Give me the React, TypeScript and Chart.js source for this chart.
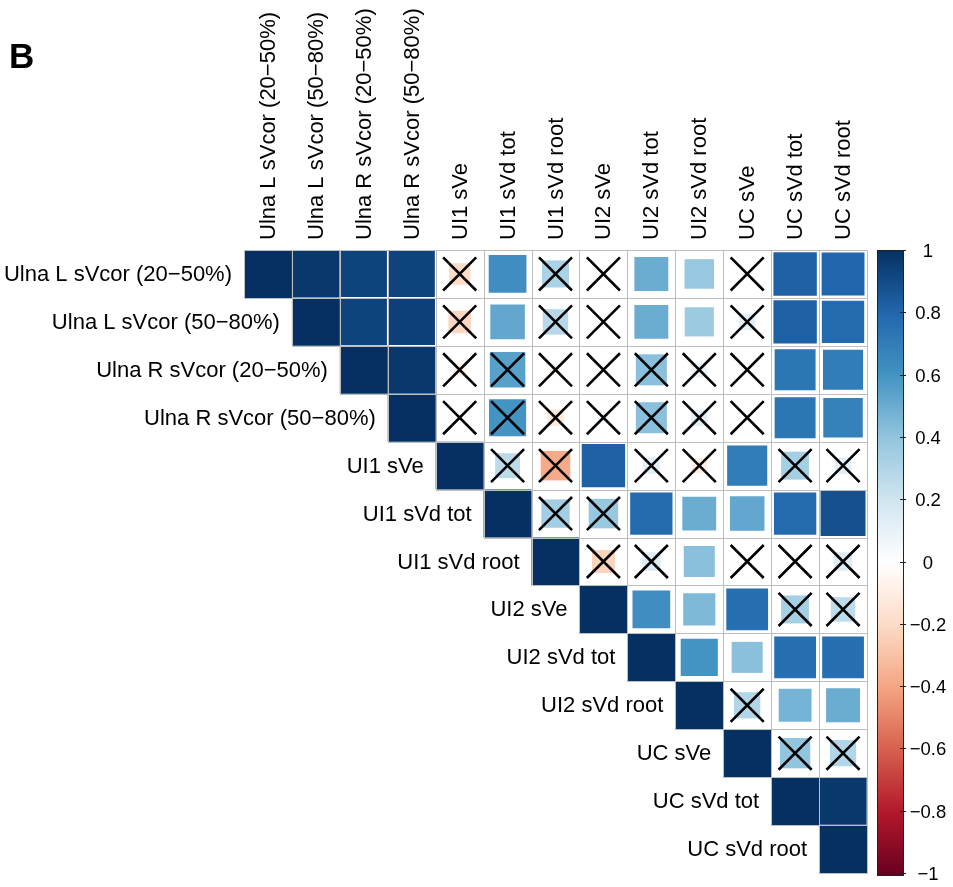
import React, { useEffect, useRef } from 'react';
import { Chart, registerables } from 'chart.js';

Chart.register(...registerables);

// ---------- data ----------
const variables: string[] = [
  'Ulna L sVcor (20−50%)',
  'Ulna L sVcor (50−80%)',
  'Ulna R sVcor (20−50%)',
  'Ulna R sVcor (50−80%)',
  'UI1 sVe',
  'UI1 sVd tot',
  'UI1 sVd root',
  'UI2 sVe',
  'UI2 sVd tot',
  'UI2 sVd root',
  'UC sVe',
  'UC sVd tot',
  'UC sVd root',
];

// upper triangle: each row starts at its own diagonal cell
const rowUlnaL2050 = [1, 0.97, 0.93, 0.93, -0.2, 0.62, 0.32, 0.02, 0.5, 0.38, 0.03, 0.82, 0.8];
const rowUlnaL5080 = [1, 0.93, 0.94, -0.22, 0.52, 0.28, 0.02, 0.5, 0.37, 0.12, 0.82, 0.78];
const rowUlnaR2050 = [1, 0.97, -0.08, 0.55, -0.05, 0.01, 0.42, 0.1, 0.01, 0.73, 0.7];
const rowUlnaR5080 = [1, 0.02, 0.6, -0.12, 0.06, 0.42, 0.12, 0.02, 0.73, 0.68];
const rowUI1sVe = [1, 0.27, -0.38, 0.82, 0.12, -0.1, 0.7, 0.34, 0.12];
const rowUI1sVdTot = [1, 0.35, 0.38, 0.78, 0.5, 0.52, 0.78, 0.88];
const rowUI1sVdRoot = [1, -0.23, 0.15, 0.42, 0.02, 0.01, 0.15];
const rowUI2sVe = [1, 0.62, 0.45, 0.76, 0.34, 0.26];
const rowUI2sVdTot = [1, 0.6, 0.42, 0.76, 0.76];
const rowUI2sVdRoot = [1, 0.3, 0.47, 0.5];
const rowUCsVe = [1, 0.4, 0.3];
const rowUCsVdTot = [1, 0.97];
const rowUCsVdRoot = [1];

const corrUpper: number[][] = [
  rowUlnaL2050, rowUlnaL5080, rowUlnaR2050, rowUlnaR5080, rowUI1sVe, rowUI1sVdTot,
  rowUI1sVdRoot, rowUI2sVe, rowUI2sVdTot, rowUI2sVdRoot, rowUCsVe, rowUCsVdTot, rowUCsVdRoot,
];

// non-significant cells (column indices) per row -> crossed out
const insignificantCols: number[][] = [
  [4, 6, 7, 10],
  [4, 6, 7, 10],
  [4, 5, 6, 7, 8, 9, 10],
  [4, 5, 6, 7, 8, 9, 10],
  [5, 6, 8, 9, 11, 12],
  [6, 7],
  [7, 8, 10, 11, 12],
  [11, 12],
  [],
  [10],
  [11, 12],
  [],
  [],
];

const colorbarTicks = [1, 0.8, 0.6, 0.4, 0.2, 0, -0.2, -0.4, -0.6, -0.8, -1];
const colorbarTickLabels = ['1', '0.8', '0.6', '0.4', '0.2', '0', '−0.2', '−0.4', '−0.6', '−0.8', '−1'];
const rdbuColors = ['#67001F', '#B2182B', '#D6604D', '#F4A582', '#FDDBC7', '#FFFFFF', '#D1E5F0', '#92C5DE', '#4393C3', '#2166AC', '#053061'];
const panelLabel = 'B';

// ---------- helpers ----------
const FONT = "'Liberation Sans', Arial, Helvetica, sans-serif";

function hexToRgb(h: string) {
  const n = parseInt(h.slice(1), 16);
  return [(n >> 16) & 255, (n >> 8) & 255, n & 255];
}
function colorFor(v: number) {
  const t = Math.max(0, Math.min(1, (v + 1) / 2)) * (rdbuColors.length - 1);
  const i = Math.min(rdbuColors.length - 2, Math.floor(t));
  const f = t - i;
  const a = hexToRgb(rdbuColors[i]);
  const b = hexToRgb(rdbuColors[i + 1]);
  const c = a.map((x, k) => Math.round(x + (b[k] - x) * f));
  return `rgb(${c[0]},${c[1]},${c[2]})`;
}
function cellPx(chart: any) {
  const s = chart.scales && chart.scales.x;
  if (!s) return 0;
  const w = Math.abs(s.getPixelForValue(1) - s.getPixelForValue(0));
  return isFinite(w) ? w : 0;
}

const overlayPlugin = {
  id: 'corrOverlay',
  afterDatasetsDraw(chart: any) {
    const { ctx, scales } = chart;
    const x = scales.x;
    const y = scales.y;
    ctx.save();
    ctx.strokeStyle = '#bebebe';
    ctx.lineWidth = 1;
    for (let i = 0; i < variables.length; i++) {
      for (let j = i; j < variables.length; j++) {
        const x0 = Math.round(x.getPixelForValue(j - 0.5)) + 0.5;
        const x1 = Math.round(x.getPixelForValue(j + 0.5)) + 0.5;
        const y0 = Math.round(y.getPixelForValue(i - 0.5)) + 0.5;
        const y1 = Math.round(y.getPixelForValue(i + 0.5)) + 0.5;
        ctx.strokeRect(x0, y0, x1 - x0, y1 - y0);
      }
    }
    ctx.restore();
  },
  afterDraw(chart: any) {
    const { ctx, scales, chartArea } = chart;
    const x = scales.x;
    const y = scales.y;
    const cb = scales.cb;
    ctx.save();
    ctx.fillStyle = '#000';
    ctx.font = `22px ${FONT}`;
    // column labels (vertical)
    for (let j = 0; j < variables.length; j++) {
      const px = x.getPixelForValue(j);
      ctx.save();
      ctx.translate(px, chartArea.top - 10);
      ctx.rotate(-Math.PI / 2);
      ctx.textAlign = 'left';
      ctx.textBaseline = 'middle';
      ctx.fillText(variables[j], 0, 1);
      ctx.restore();
    }
    // row labels next to the diagonal
    ctx.textAlign = 'right';
    ctx.textBaseline = 'middle';
    for (let i = 0; i < variables.length; i++) {
      const px = x.getPixelForValue(i - 0.5) - 12;
      const py = y.getPixelForValue(i);
      ctx.fillText(variables[i], px, py + 1);
    }
    // colorbar
    const cbLeft = chartArea.right + 10;
    const cbW = 26;
    const top = cb.getPixelForValue(1);
    const bot = cb.getPixelForValue(-1) + 2;
    const grad = ctx.createLinearGradient(0, top, 0, bot);
    rdbuColors.forEach((c, k) => grad.addColorStop(1 - k / (rdbuColors.length - 1), c));
    ctx.fillStyle = grad;
    ctx.fillRect(cbLeft, top, cbW, bot - top);
    ctx.strokeStyle = '#222';
    ctx.lineWidth = 1;
    ctx.strokeRect(cbLeft + 0.5, top + 0.5, cbW, bot - top);
    ctx.font = `18.5px ${FONT}`;
    ctx.fillStyle = '#000';
    ctx.textAlign = 'center';
    ctx.textBaseline = 'middle';
    colorbarTicks.forEach((v, k) => {
      const py = Math.round(cb.getPixelForValue(v)) + 0.5;
      ctx.beginPath();
      ctx.moveTo(cbLeft + cbW - 3, py);
      ctx.lineTo(cbLeft + cbW + 3, py);
      ctx.stroke();
      ctx.fillText(colorbarTickLabels[k], cbLeft + cbW + 25, py + 1);
    });
    // panel label
    ctx.font = `bold 35px ${FONT}`;
    ctx.textAlign = 'left';
    ctx.textBaseline = 'alphabetic';
    ctx.fillText(panelLabel, 9, 68);
    ctx.restore();
  },
};

export default function App() {
  const ref = useRef<HTMLCanvasElement | null>(null);
  useEffect(() => {
    if (!ref.current) return;
    const squares: any[] = [];
    corrUpper.forEach((row, i) => {
      row.forEach((v, k) => squares.push({ x: i + k, y: i, v }));
    });
    const crosses: any[] = [];
    insignificantCols.forEach((cols, i) => {
      cols.forEach((j) => crosses.push({ x: j, y: i }));
    });
    const chart = new Chart(ref.current, {
      type: 'scatter',
      data: {
        datasets: [
          {
            label: 'not significant',
            data: crosses,
            order: 0,
            pointStyle: 'crossRot',
            pointRadius: (c: any) => (cellPx(c.chart) * 0.345) / Math.SQRT1_2,
            pointBorderColor: '#000',
            pointBackgroundColor: 'rgba(0,0,0,0)',
            pointBorderWidth: 2.6,
          } as any,
          {
            label: 'correlation',
            data: squares,
            order: 1,
            pointStyle: 'rect',
            pointRadius: (c: any) => {
              const r = c.raw;
              if (!r) return 0;
              const half = (Math.sqrt(Math.abs(r.v)) * cellPx(c.chart)) / 2;
              return half / Math.SQRT1_2;
            },
            pointBackgroundColor: (c: any) => (c.raw ? colorFor(c.raw.v) : '#fff'),
            pointBorderWidth: 0,
          } as any,
        ],
      },
      options: {
        animation: false,
        responsive: false,
        events: [],
        layout: { autoPadding: false, padding: { left: 244, top: 250, right: 86, bottom: 14 } },
        plugins: { legend: { display: false }, tooltip: { enabled: false } },
        scales: {
          x: { type: 'linear', min: -0.5, max: 12.5, display: false },
          y: { type: 'linear', min: -0.5, max: 12.5, reverse: true, display: false },
          cb: { type: 'linear', axis: 'y', min: -1, max: 1, display: false },
        },
      } as any,
      plugins: [overlayPlugin],
    });
    return () => chart.destroy();
  }, []);
  return (
    <div style={{ position: 'absolute', left: 0, top: 0, width: 953, height: 887, background: '#fff' }}>
      <canvas ref={ref} width={953} height={887} style={{ display: 'block' }} />
    </div>
  );
}
